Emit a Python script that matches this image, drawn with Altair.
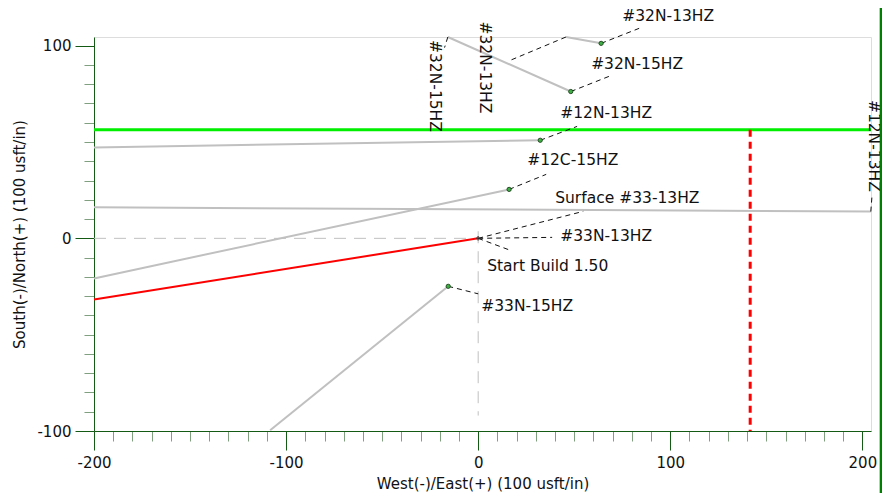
import altair as alt
import pandas as pd

# ---------------- data (100 usft units) ----------------
# offset wells (grey): x / y vertices
w32N15_x = [-15.8, 48.2]
w32N15_y = [104.5, 76.2]
w32N13_x = [45.7, 64.0]
w32N13_y = [104.5, 101.2]
w12N13_x = [-200, 32.3]
w12N13_y = [47.2, 50.9]
w12C15_x = [-200, 16.1]
w12C15_y = [-20.8, 25.4]
w33S13_x = [-200, 204.4]
w33S13_y = [16.1, 13.9]
w33N15_x = [-108.3, -15.6]
w33N15_y = [-99.6, -24.9]

# plan (red)
plan_x = [-200, 0]
plan_y = [-31.7, 0]

# green target line and red dashed line
green_y = 56.3
green_x = [-200, 204.5]
reddash_x = 141.6
reddash_y = [56.3, -100]

# well end points (markers)
pt_x = [48.2, 64.0, 32.3, 16.1, -15.6]
pt_y = [76.2, 101.2, 50.9, 25.4, -24.9]

# leader lines: x1, y1, x2, y2
ld_x1 = [48.2, 64.0, 45.7, -15.8, 32.3, 16.1, 204.4, -15.6, 0, 0, 0]
ld_y1 = [76.2, 101.2, 104.5, 104.5, 50.9, 25.4, 13.9, -24.9, 0, 0, 0]
ld_x2 = [68.2, 83.8, 16.7, -17.5, 51.5, 35.4, 205.0, 0.0, 54.7, 38.5, 16.7]
ld_y2 = [84.1, 109.0, 92.4, 99.0, 58.1, 33.2, 21.8, -28.8, 14.0, 0.5, -6.2]

# labels
lab_text = ["#32N-13HZ", "#32N-15HZ", "#12N-13HZ", "#12C-15HZ",
            "Surface #33-13HZ", "#33N-13HZ", "Start Build 1.50", "#33N-15HZ"]
lab_x = [75.0, 58.8, 42.7, 25.5, 40.1, 42.7, 4.7, 1.6]
lab_y = [115.2, 90.3, 64.9, 40.5, 20.8, 1.0, -14.5, -35.3]

rot_text = ["#32N-15HZ", "#32N-13HZ", "#12N-13HZ"]
rot_x = [-22.4, 3.6, 206.3]
rot_y = [79.1, 88.7, 48.0]

# crosshair
ch_x1 = [-200, 0]
ch_y1 = [0, 3.7]
ch_x2 = [0, 0]
ch_y2 = [0, -92]

border_x = 209.8
border_y = [125, -140]

X_DOM = [-200, 204.5]
Y_DOM = [-100, 104.5]

# ---------------- frames ----------------
wells = []
for name, xs_, ys_ in [("32N15", w32N15_x, w32N15_y), ("32N13", w32N13_x, w32N13_y),
                       ("12N13", w12N13_x, w12N13_y), ("12C15", w12C15_x, w12C15_y),
                       ("33S13", w33S13_x, w33S13_y), ("33N15", w33N15_x, w33N15_y)]:
    for i, (a, b) in enumerate(zip(xs_, ys_)):
        wells.append({"well": name, "o": i, "x": a, "y": b})
wells_df = pd.DataFrame(wells)
plan_df = pd.DataFrame({"x": plan_x, "y": plan_y, "o": range(len(plan_x))})
pts_df = pd.DataFrame({"x": pt_x, "y": pt_y})
ld_df = pd.DataFrame({"x": ld_x1, "y": ld_y1, "x2": ld_x2, "y2": ld_y2})
lab_df = pd.DataFrame({"t": lab_text, "x": lab_x, "y": lab_y})
rot_df = pd.DataFrame({"t": rot_text, "x": rot_x, "y": rot_y})
ch_df = pd.DataFrame({"x": ch_x1, "y": ch_y1, "x2": ch_x2, "y2": ch_y2})
green_df = pd.DataFrame({"x": [green_x[0]], "x2": [green_x[1]], "y": [green_y]})
rd_df = pd.DataFrame({"x": [reddash_x], "y": [reddash_y[0]], "y2": [reddash_y[1]]})
bd_df = pd.DataFrame({"x": [border_x], "y": [border_y[0]], "y2": [border_y[1]]})

FONT = "DejaVu Sans"
DARK = "#145a14"
MINOR = "#7f9f7f"
MAJ = "datum.value % 100 === 0"


def make_axis(title, vals, lpad, tpad):
    return alt.Axis(
        title=title, values=vals,
        labelExpr=MAJ + " ? ('' + datum.value) : ''",
        tickSize={"condition": {"test": MAJ, "value": 19}, "value": 10},
        tickColor={"condition": {"test": MAJ, "value": DARK}, "value": MINOR},
        grid=False, domainColor=DARK, labelFont=FONT, labelFontSize=15, labelColor="#111",
        titleFont=FONT, titleFontSize=15, titleFontWeight="normal", titleColor="#111",
        labelPadding=lpad, titlePadding=tpad, labelFlush=False, labelOverlap=False,
    )


xaxis = make_axis("West(-)/East(+) (100 usft/in)", list(range(-200, 201, 10)), 5, 6)
yaxis = make_axis("South(-)/North(+) (100 usft/in)", list(range(-100, 101, 10)), 4, 9)
xs = alt.Scale(domain=X_DOM, nice=False, zero=False)
ys = alt.Scale(domain=Y_DOM, nice=False, zero=False)

X = alt.X("x:Q", scale=xs, axis=xaxis)
Y = alt.Y("y:Q", scale=ys, axis=yaxis)

cross = alt.Chart(ch_df).mark_rule(color="#c0c0c0", strokeWidth=1, strokeDash=[12, 8]).encode(
    x=X, y=Y, x2="x2:Q", y2="y2:Q")
well_lines = alt.Chart(wells_df).mark_line(color="#c0c0c0", strokeWidth=2).encode(
    x=X, y=Y, detail="well:N", order="o:Q")
green = alt.Chart(green_df).mark_rule(color="#00ee00", strokeWidth=3).encode(
    x=X, x2="x2:Q", y=Y)
plan = alt.Chart(plan_df).mark_line(color="#ff0000", strokeWidth=2).encode(
    x=X, y=Y, order="o:Q")
reddash = alt.Chart(rd_df).mark_rule(color="#ff0000", strokeWidth=3, strokeDash=[7, 5]).encode(
    x=X, y=Y, y2="y2:Q")
leaders = alt.Chart(ld_df).mark_rule(color="#111", strokeWidth=1, strokeDash=[5, 4]).encode(
    x=X, y=Y, x2="x2:Q", y2="y2:Q")
points = alt.Chart(pts_df).mark_point(filled=True, size=18, color="#3cb043",
                                      stroke="#234d23", strokeWidth=1, opacity=1).encode(
    x=X, y=Y)
origin = alt.Chart(pd.DataFrame({"x": [0], "y": [0]})).mark_point(
    shape="cross", size=20, filled=True, color="#333").encode(x=X, y=Y)
labels = alt.Chart(lab_df).mark_text(align="left", baseline="middle", font=FONT,
                                     fontSize=15.5, color="#111", clip=False).encode(
    x=X, y=Y, text="t:N")
rlabels = alt.Chart(rot_df).mark_text(align="center", baseline="middle", angle=90, font=FONT,
                                      fontSize=15.5, color="#111", clip=False).encode(
    x=X, y=Y, text="t:N")
border = alt.Chart(bd_df).mark_rule(color="#008000", strokeWidth=3, clip=False).encode(
    x=X, y=Y, y2="y2:Q")

chart = alt.layer(cross, well_lines, green, plan, reddash, leaders, points, origin,
                  labels, rlabels, border).properties(
    width=777, height=394,
    autosize=alt.AutoSizeParams(type="none"),
    padding={"left": 86, "top": 29, "right": 11, "bottom": 62},
).configure_view(strokeWidth=0).configure(background="white")

chart.save("out.html", embed_options={"renderer": "svg", "actions": False})
